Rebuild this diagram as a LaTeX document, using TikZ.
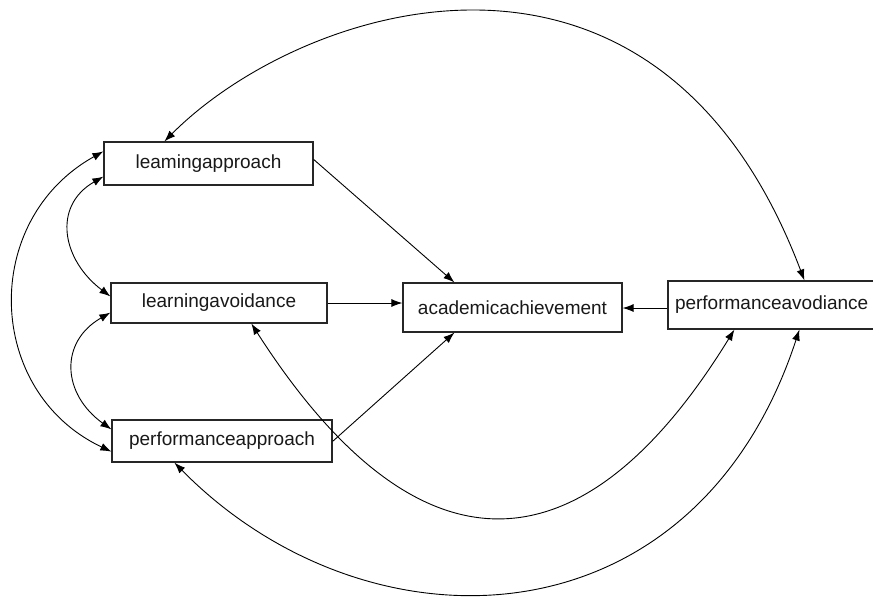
\documentclass[tikz,border=0pt]{standalone}
\usepackage{fontspec}
\setmainfont{Liberation Sans}
\usetikzlibrary{arrows.meta,calc}
\begin{document}
\begin{tikzpicture}[x=1pt,y=-1pt,
  box/.style={draw=black!85, line width=1.2pt, fill=white, inner sep=0pt,
    font=\fontsize{19}{22}\selectfont, text=black!90},
  tip/.tip={Latex[length=11pt,width=8pt]},
  conn/.style={line width=0.9pt, -tip},
  dconn/.style={line width=0.9pt, tip-tip}]
\fill[white] (0,0) rectangle (873,598);
\useasboundingbox (0,0) rectangle (873,598);
% nodes
\node[box, minimum width=209pt, minimum height=43pt] (la) at (208.5,163.5) {leamingapproach};
\node[box, minimum width=216pt, minimum height=40pt] (lv) at (219,303) {learningavoidance};
\node[box, minimum width=220pt, minimum height=42pt] (pa) at (222,441) {performanceapproach};
\node[box, minimum width=219pt, minimum height=49pt] (aa) at (512.5,307.5) {academicachievement};
\node[box, text width=200pt, align=left, inner xsep=7pt, minimum height=48pt] (pv) at (775,305) {performanceavodiance};
% straight paths
\draw[conn] ($(la.north east)+(0,18)$) -- ($(aa.north west)+(52,0)$);
\draw[conn] (lv.east) -- (lv.east -| aa.west);
\draw[conn] ($(pa.north east)+(0,22)$) -- ($(aa.south west)+(52,0)$);
\coordinate (pvw) at ($(pv.west)+(0,3)$);
\draw[conn] (pvw) -- (pvw -| aa.east);
% curved covariances
\draw[dconn] ($(la.north west)+(61,0)$) .. controls (301,4) and (656,-112) .. ($(pv.north west)+(137,0)$);
\draw[dconn] ($(lv.south west)+(141,0)$) .. controls (413,576) and (578,584) .. ($(pv.south west)+(67,0)$);
\draw[dconn] ($(pa.south west)+(63,0)$) .. controls (367,658) and (694,651) .. ($(pv.south west)+(132,0)$);
\draw[dconn] ($(la.north west)+(0,10)$) .. controls (-20,220) and (-15,392) .. ($(pa.south west)+(0,-11)$);
\draw[dconn] ($(la.south west)+(0,-9)$) .. controls (52,206) and (62,260) .. ($(lv.north west)+(0,14)$);
\draw[dconn] ($(lv.south west)+(0,-11)$) .. controls (59,342) and (62,394) .. ($(pa.north west)+(0,10)$);
\end{tikzpicture}
\end{document}
